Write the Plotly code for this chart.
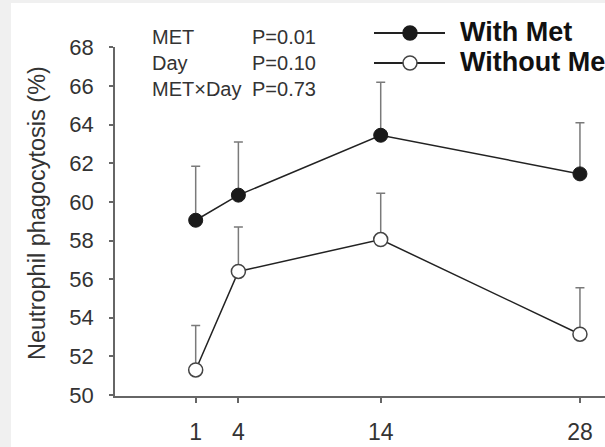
import plotly.graph_objects as go

# ---- data ----
days = [1, 4, 14, 28]
with_met = [59.05, 60.35, 63.45, 61.45]
with_met_se = [2.8, 2.75, 2.75, 2.65]
without_met = [51.3, 56.4, 58.05, 53.15]
without_met_se = [2.3, 2.3, 2.4, 2.4]
y_ticks = [50, 52, 54, 56, 58, 60, 62, 64, 66, 68]
stats_labels = ["MET", "Day", "MET×Day"]
stats_p = ["P=0.01", "P=0.10", "P=0.73"]
series_names = ["With Met", "Without Met"]

W, H = 605, 447
ML, MR, MT, MB = 115, 0, 47, 51
PW, PH = W - ML - MR, H - MT - MB

def px(x):
    return (x - ML) / PW

def py(y):
    return (H - MB - y) / PH

FONT = "Liberation Sans, Arial, sans-serif"
LINE_C = "#222222"
ERR_C = "#7a7a7a"
AX_C = "#666666"
BORDER = "#f0f0f0"

fig = go.Figure()
fig.add_trace(go.Scatter(
    x=days, y=without_met, mode="lines+markers", name=series_names[1],
    line=dict(color=LINE_C, width=1.5),
    marker=dict(size=14, color="white", line=dict(color="#444444", width=1.5)),
    error_y=dict(type="data", array=without_met_se, arrayminus=[0]*4, symmetric=False,
                 color=ERR_C, thickness=1.5, width=4.5),
    showlegend=False))
fig.add_trace(go.Scatter(
    x=days, y=with_met, mode="lines+markers", name=series_names[0],
    line=dict(color=LINE_C, width=1.5),
    marker=dict(size=14, color="#1a1a1a", line=dict(color="#1a1a1a", width=1)),
    error_y=dict(type="data", array=with_met_se, arrayminus=[0]*4, symmetric=False,
                 color=ERR_C, thickness=1.5, width=4.5),
    showlegend=False))

shapes = [
    # gray frame strips at left and top
    dict(type="rect", xref="paper", yref="paper", x0=px(-5), x1=px(11), y0=py(H + 5), y1=py(-5),
         fillcolor=BORDER, line=dict(width=0), layer="below"),
    dict(type="rect", xref="paper", yref="paper", x0=px(-5), x1=px(W + 5), y0=py(3), y1=py(-5),
         fillcolor=BORDER, line=dict(width=0), layer="below"),
]
annotations = []

# manual legend
leg_y = [33, 63]
fills = ["#1a1a1a", "white"]
outl = ["#1a1a1a", "#444444"]
for i, name in enumerate(series_names):
    shapes.append(dict(type="line", xref="paper", yref="paper", x0=px(374), x1=px(445),
                       y0=py(leg_y[i]), y1=py(leg_y[i]), line=dict(color=LINE_C, width=1.8)))
    shapes.append(dict(type="circle", xref="paper", yref="paper", xsizemode="pixel", ysizemode="pixel",
                       xanchor=px(410), yanchor=py(leg_y[i]), x0=-7, x1=7, y0=-7, y1=7,
                       fillcolor=fills[i], line=dict(color=outl[i], width=1.5)))
    annotations.append(dict(text=f"<b>{name}</b>", xref="paper", yref="paper", x=px(458), y=py(leg_y[i] - 1),
                            xanchor="left", yanchor="middle", showarrow=False,
                            font=dict(family=FONT, size=27, color="#111111")))

# stats text
st_y = [37, 63, 89]
for i in range(3):
    annotations.append(dict(text=stats_labels[i], xref="paper", yref="paper", x=px(150), y=py(st_y[i]),
                            xanchor="left", yanchor="middle", showarrow=False,
                            font=dict(family=FONT, size=20, color="#333333")))
    annotations.append(dict(text=stats_p[i], xref="paper", yref="paper", x=px(250), y=py(st_y[i]),
                            xanchor="left", yanchor="middle", showarrow=False,
                            font=dict(family=FONT, size=20, color="#333333")))

# y axis title
annotations.append(dict(text="Neutrophil phagocytosis (%)", xref="paper", yref="paper",
                        x=px(37), y=py(213), textangle=-90, xanchor="center", yanchor="middle",
                        showarrow=False, font=dict(family=FONT, size=23.5, color="#333333")))

fig.update_layout(
    width=W, height=H,
    margin=dict(l=ML, r=MR, t=MT, b=MB, pad=0),
    paper_bgcolor="white", plot_bgcolor="white",
    shapes=shapes, annotations=annotations,
    xaxis=dict(range=[-4.67, 29.76], tickvals=days, ticktext=[str(d) for d in days],
               showgrid=False, zeroline=False, showline=True, linecolor=AX_C, linewidth=1.5,
               ticks="outside", ticklen=5, tickwidth=1.5, tickcolor=AX_C,
               tickfont=dict(family=FONT, size=23, color="#333333"), ticklabelstandoff=10),
    yaxis=dict(range=[49.95, 68.02], tickvals=y_ticks, ticktext=[str(t) for t in y_ticks],
               showgrid=False, zeroline=False, showline=True, linecolor=AX_C, linewidth=1.5,
               ticks="outside", ticklen=4, tickwidth=1.5, tickcolor=AX_C,
               tickfont=dict(family=FONT, size=22, color="#333333"), ticklabelstandoff=11),
    showlegend=False,
)

fig.write_html("out.html")
